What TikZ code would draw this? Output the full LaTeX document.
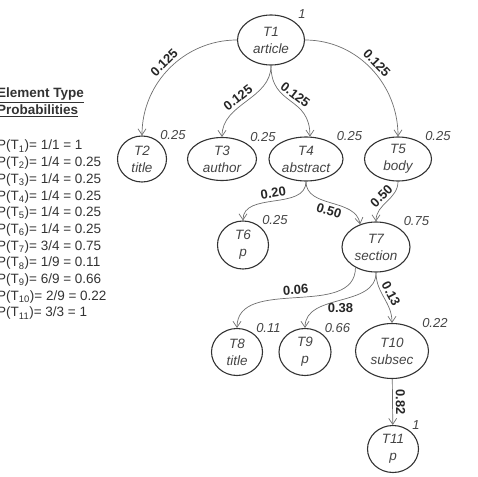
\documentclass[tikz,border=0pt]{standalone}
\usepackage{fontspec}
\setmainfont{Liberation Sans}
\usepackage{tikz}
\usetikzlibrary{arrows.meta,shapes.geometric}
\definecolor{inkgray}{HTML}{333333}
\definecolor{edgegray}{HTML}{6E6E6E}
\definecolor{textgray}{HTML}{444444}
\tikzset{
  typenode/.style={
    ellipse,
    draw=inkgray,
    line width=1.1pt,
    align=center,
    inner sep=0pt,
    text=textgray,
    font=\fontsize{13.5}{17}\selectfont\itshape
  },
  probtag/.style={
    anchor=west,
    xshift=-7pt,
    inner sep=0pt,
    text=textgray,
    font=\fontsize{13}{15}\selectfont\itshape
  },
  weighttag/.style={
    inner sep=3pt,
    text=black!85,
    font=\fontsize{13}{15}\selectfont\bfseries
  },
  typearrow/.style={-{Straight Barb[length=6pt,width=8pt]}, line width=0.7pt, draw=edgegray},
  listtext/.style={anchor=north west, align=left, inner sep=0pt, text=black!80}
}
\begin{document}
\begin{tikzpicture}[x=1pt,y=1pt]
\useasboundingbox (0,0) rectangle (478,-476);

% probability table
\node[listtext, font=\fontsize{13.5}{17}\selectfont\bfseries] (head) at (-3,-88)
  {\underline{Element Type}\\\underline{Probabilities}};
\node[listtext, font=\fontsize{13.5}{16.7}\selectfont] (plist) at (-3,-140)
  {P(T\textsubscript{1})= 1/1 = 1\\
   P(T\textsubscript{2})= 1/4 = 0.25\\
   P(T\textsubscript{3})= 1/4 = 0.25\\
   P(T\textsubscript{4})= 1/4 = 0.25\\
   P(T\textsubscript{5})= 1/4 = 0.25\\
   P(T\textsubscript{6})= 1/4 = 0.25\\
   P(T\textsubscript{7})= 3/4 = 0.75\\
   P(T\textsubscript{8})= 1/9 = 0.11\\
   P(T\textsubscript{9})= 6/9 = 0.66\\
   P(T\textsubscript{10})= 2/9 = 0.22\\
   P(T\textsubscript{11})= 3/3 = 1};

% element type tree
\node[typenode, minimum width=67pt, minimum height=50pt] (T1) at (271,-40) {T1\\article};
\node[typenode, minimum width=49pt, minimum height=46pt] (T2) at (142,-159) {T2\\title};
\node[typenode, minimum width=69pt, minimum height=43pt] (T3) at (222,-159) {T3\\author};
\node[typenode, minimum width=74pt, minimum height=44pt] (T4) at (306,-159) {T4\\abstract};
\node[typenode, minimum width=67pt, minimum height=44pt] (T5) at (398,-159) {T5\\body};
\node[typenode, minimum width=51pt, minimum height=48pt] (T6) at (243,-245) {T6\\p};
\node[typenode, minimum width=68pt, minimum height=50pt] (T7) at (376,-247) {T7\\section};
\node[typenode, minimum width=51pt, minimum height=47pt] (T8) at (237,-352) {T8\\title};
\node[typenode, minimum width=52pt, minimum height=47pt] (T9) at (305,-352) {T9\\p};
\node[typenode, minimum width=73pt, minimum height=55pt] (T10) at (392,-351) {T10\\subsec};
\node[typenode, minimum width=51pt, minimum height=47pt] (T11) at (393,-449) {T11\\p};

\node[probtag] (p1) at (T1.north -| T1.east) {1};
\node[probtag] (p2) at (T2.north -| T2.east) {0.25};
\node[probtag] (p3) at (T3.north -| T3.east) {0.25};
\node[probtag] (p4) at (T4.north -| T4.east) {0.25};
\node[probtag] (p5) at (T5.north -| T5.east) {0.25};
\node[probtag] (p6) at (T6.north -| T6.east) {0.25};
\node[probtag] (p7) at (T7.north -| T7.east) {0.75};
\node[probtag] (p8) at (T8.north -| T8.east) {0.11};
\node[probtag] (p9) at (T9.north -| T9.east) {0.66};
\node[probtag] (p10) at (T10.north -| T10.east) {0.22};
\node[probtag] (p11) at (T11.north -| T11.east) {1};

\draw[typearrow] (T1.west) to[out=180,in=90] node[weighttag, sloped, above] (w2) {0.125} (T2.north);
\draw[typearrow] (T1.south) to[out=-90,in=90] node[weighttag, sloped, above, pos=0.55] (w3) {0.125} (T3.north);
\draw[typearrow] (T1.south) to[out=-90,in=90,looseness=1.3] node[weighttag, sloped, above, pos=0.5] (w4) {0.125} (T4.80);
\draw[typearrow] (T1.east) to[out=0,in=90] node[weighttag, sloped, above] (w5) {0.125} (T5.north);
\draw[typearrow] (T4.south) to[out=-90,in=90] node[weighttag, sloped, above] (w6) {0.20} (T6.north);
\draw[typearrow] (T4.south) to[out=-90,in=100] node[weighttag, sloped, below] (w47) {0.50} (T7.125);
\draw[typearrow] (T5.south) to[out=-90,in=90] node[weighttag, sloped, above] (w57) {0.50} (T7.north);
\draw[typearrow] (T7.225) to[out=-90,in=90] node[weighttag, sloped, above] (w8) {0.06} (T8.north);
\draw[typearrow] (T7.south) to[out=-90,in=90] node[weighttag, below, pos=0.5] (w9) {0.38} (T9.north);
\draw[typearrow] (T7.south) to[out=-90,in=90] node[weighttag, sloped, above] (w10) {0.13} (T10.north);
\draw[typearrow] (T10) -- node[weighttag, sloped, above] (w11) {0.82} (T11);
\end{tikzpicture}
\end{document}
